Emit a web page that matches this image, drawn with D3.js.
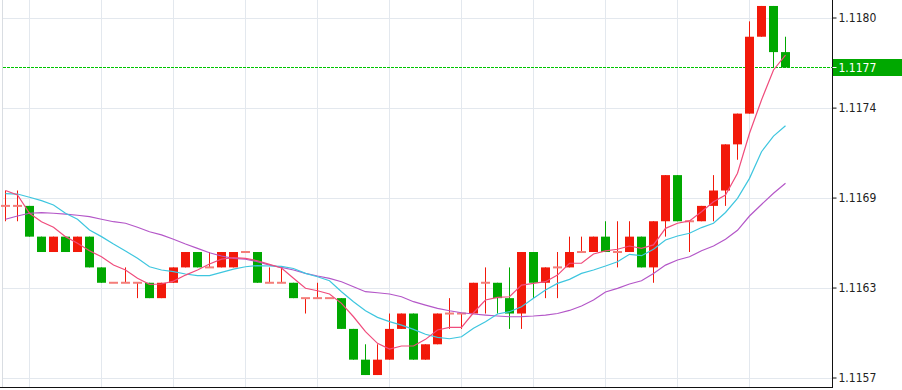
<!DOCTYPE html>
<html>
<head>
<meta charset="utf-8">
<script src="https://cdn.jsdelivr.net/npm/d3@7"></script>
<style>
  html, body { margin: 0; padding: 0; background: #fff; }
  svg { display: block; }
  .axis text { font-family: "DejaVu Sans Condensed", "DejaVu Sans", sans-serif; font-stretch: condensed; font-size: 12px; fill: #222; }
</style>
</head>
<body>
<svg id="chart" width="902" height="390"></svg>
<script>
// ---- data (EURUSD-like candles) ----
const opens = [1.1168,1.1168,1.1168,1.1166,1.1165,1.1166,1.1165,1.1166,1.1164,1.1163,
  1.1163,1.1163,1.1163,1.1162,1.1163,1.1164,1.1165,1.1164,1.1164,1.1164,
  1.1165,1.1165,1.1163,1.1163,1.1163,1.1162,1.1162,1.1162,1.1162,1.1160,
  1.1158,1.1157,1.1158,1.1160,1.1161,1.1158,1.1159,1.1161,1.1161,1.1161,
  1.1163,1.1163,1.1162,1.1161,1.1165,1.1163,1.1164,1.1164,1.1165,1.1165,
  1.1166,1.1165,1.1165,1.1166,1.1164,1.1167,1.1170,1.1167,1.1167,1.1168,
  1.1169,1.1172,1.1174,1.1179,1.1181,1.1178];
const highs = [1.1169,1.1169,1.1168,1.1166,1.1166,1.1166,1.1166,1.1166,1.1164,1.1163,
  1.1164,1.1163,1.1163,1.1163,1.1164,1.1165,1.1165,1.1165,1.1165,1.1165,
  1.1165,1.1165,1.1164,1.1164,1.1163,1.1162,1.1163,1.1162,1.1162,1.1160,
  1.1159,1.1159,1.1161,1.1161,1.1161,1.1159,1.1161,1.1162,1.1161,1.1163,
  1.1164,1.1163,1.1164,1.1165,1.1165,1.1164,1.1165,1.1166,1.1166,1.1166,
  1.1167,1.1167,1.1167,1.1166,1.1167,1.1170,1.1170,1.1167,1.1168,1.1170,
  1.1172,1.1174,1.1180,1.1181,1.1181,1.1179];
const lows = [1.1167,1.1167,1.1166,1.1165,1.1165,1.1165,1.1165,1.1164,1.1163,1.1163,
  1.1163,1.1162,1.1162,1.1162,1.1163,1.1164,1.1164,1.1164,1.1164,1.1164,
  1.1165,1.1163,1.1163,1.1163,1.1162,1.1161,1.1162,1.1162,1.1160,1.1158,
  1.1157,1.1157,1.1158,1.1160,1.1158,1.1158,1.1159,1.1160,1.1160,1.1161,
  1.1161,1.1161,1.1160,1.1160,1.1162,1.1162,1.1162,1.1164,1.1165,1.1165,
  1.1165,1.1164,1.1165,1.1164,1.1163,1.1166,1.1167,1.1165,1.1167,1.1167,
  1.1168,1.1171,1.1174,1.1179,1.1177,1.1177];
const closes = [1.1168,1.1168,1.1166,1.1165,1.1166,1.1165,1.1166,1.1164,1.1163,1.1163,
  1.1163,1.1163,1.1162,1.1163,1.1164,1.1165,1.1164,1.1164,1.1165,1.1165,
  1.1165,1.1163,1.1163,1.1163,1.1162,1.1162,1.1162,1.1162,1.1160,1.1158,
  1.1157,1.1158,1.1160,1.1161,1.1158,1.1159,1.1161,1.1161,1.1161,1.1163,
  1.1163,1.1162,1.1161,1.1165,1.1163,1.1164,1.1164,1.1165,1.1165,1.1166,
  1.1165,1.1165,1.1166,1.1164,1.1167,1.1170,1.1167,1.1167,1.1168,1.1169,
  1.1172,1.1174,1.1179,1.1181,1.1178,1.1177];

// moving averages (fast / medium / slow)
const maFast = [1.116900,1.116871,1.116752,1.116697,1.116661,1.116600,1.116557,1.116508,1.116469,1.116415,
  1.116383,1.116329,1.116290,1.116292,1.116311,1.116350,1.116383,1.116422,1.116454,1.116463,
  1.116459,1.116443,1.116420,1.116396,1.116329,1.116264,1.116248,1.116227,1.116166,1.116079,
  1.115982,1.115906,1.115869,1.115889,1.115889,1.115932,1.115993,1.116010,1.116010,1.116105,
  1.116188,1.116205,1.116209,1.116285,1.116296,1.116307,1.116350,1.116427,1.116427,1.116487,
  1.116507,1.116518,1.116539,1.116524,1.116546,1.116654,1.116687,1.116702,1.116762,1.116827,
  1.116871,1.117012,1.117272,1.117489,1.117684,1.117781];
const maMid = [1.116880,1.116877,1.116856,1.116834,1.116806,1.116752,1.116713,1.116643,1.116600,1.116552,
  1.116507,1.116459,1.116404,1.116383,1.116372,1.116357,1.116346,1.116346,1.116368,1.116389,
  1.116404,1.116412,1.116409,1.116406,1.116393,1.116361,1.116339,1.116313,1.116242,1.116177,
  1.116118,1.116075,1.116047,1.116025,1.115997,1.115965,1.115945,1.115936,1.115949,1.116004,
  1.116047,1.116097,1.116112,1.116144,1.116199,1.116253,1.116296,1.116322,1.116361,1.116383,
  1.116409,1.116437,1.116485,1.116476,1.116518,1.116578,1.116604,1.116622,1.116659,1.116687,
  1.116757,1.116849,1.116979,1.117152,1.117254,1.117321];
const maSlow = [1.116713,1.116734,1.116752,1.116756,1.116752,1.116747,1.116739,1.116730,1.116713,1.116697,
  1.116687,1.116661,1.116632,1.116611,1.116583,1.116552,1.116524,1.116495,1.116474,1.116459,
  1.116453,1.116437,1.116415,1.116400,1.116383,1.116361,1.116344,1.116329,1.116307,1.116274,
  1.116242,1.116235,1.116227,1.116209,1.116177,1.116155,1.116134,1.116118,1.116105,1.116097,
  1.116090,1.116084,1.116079,1.116080,1.116084,1.116090,1.116100,1.116120,1.116149,1.116188,
  1.116240,1.116264,1.116292,1.116313,1.116361,1.116415,1.116448,1.116469,1.116508,1.116539,
  1.116583,1.116641,1.116734,1.116809,1.116882,1.116947];

const yTickValues = [1.115684, 1.116269, 1.116854, 1.117439, 1.118025];
const yTickLabels = ["1.1157", "1.1163", "1.1169", "1.1174", "1.1180"];
const lastPrice = 1.1177;
const lastPriceLabel = "1.1177";

// ---- layout ----
const W = 902, H = 390;
const plotLeft = 2.5, axisX = 832.5, plotBottom = 387;
const n = opens.length;
const bodyW = 9;

const svg = d3.select("#chart");
svg.append("rect").attr("width", W).attr("height", H).attr("fill", "#fff");

const x = d3.scaleLinear().domain([0, n - 1]).range([5.5, 5.5 + 12 * (n - 1)]);
const y = d3.scaleLinear().domain([yTickValues[0], yTickValues[yTickValues.length - 1]]).range([377.5, 17.5]);

// grid
const grid = svg.append("g");
const gridIdx = d3.range(2, n, 6);
grid.selectAll("line.v").data(gridIdx).enter().append("line")
  .attr("x1", d => x(d)).attr("x2", d => x(d))
  .attr("y1", 0).attr("y2", plotBottom)
  .attr("stroke", "#e3e8ee").attr("stroke-width", 1);
grid.selectAll("line.h").data(yTickValues).enter().append("line")
  .attr("x1", plotLeft).attr("x2", axisX)
  .attr("y1", d => Math.round(y(d)) + 0.5).attr("y2", d => Math.round(y(d)) + 0.5)
  .attr("stroke", "#e3e8ee").attr("stroke-width", 1);
grid.append("line").attr("x1", plotLeft).attr("x2", plotLeft).attr("y1", 0).attr("y2", plotBottom)
  .attr("stroke", "#d9dde2").attr("stroke-width", 1);

// current price dotted line
const yLast = Math.round(y(lastPrice)) + 0.5;
svg.append("line").attr("x1", 3).attr("x2", 832).attr("y1", yLast).attr("y2", yLast)
  .attr("stroke", "#00c400").attr("stroke-width", 1).attr("stroke-dasharray", "3 1");

// candles
const RED = "#f2190a", GREEN = "#00a800", DOJI = "#f47e7a";
const candles = d3.range(n).map(i => ({ i, o: opens[i], h: highs[i], l: lows[i], c: closes[i] }));
const cg = svg.append("g");
const colorOf = d => d.c < d.o ? GREEN : RED;
cg.selectAll("line.wick").data(candles.filter(d => d.h > d.l)).enter().append("line")
  .attr("x1", d => x(d.i)).attr("x2", d => x(d.i))
  .attr("y1", d => y(d.h)).attr("y2", d => y(d.l))
  .attr("stroke", colorOf).attr("stroke-width", 1);
cg.selectAll("rect.body").data(candles.filter(d => d.o !== d.c)).enter().append("rect")
  .attr("x", d => x(d.i) - bodyW / 2)
  .attr("y", d => y(Math.max(d.o, d.c)))
  .attr("width", bodyW)
  .attr("height", d => y(Math.min(d.o, d.c)) - y(Math.max(d.o, d.c)))
  .attr("fill", colorOf);
cg.selectAll("rect.doji").data(candles.filter(d => d.o === d.c)).enter().append("rect")
  .attr("x", d => x(d.i) - bodyW / 2)
  .attr("y", d => y(d.o) - 1)
  .attr("width", bodyW).attr("height", 2)
  .attr("fill", DOJI);

// moving averages
const line = d3.line().x((d, i) => x(i)).y(d => y(d));
[[maSlow, "#b457c8"], [maMid, "#3ec6df"], [maFast, "#f04c7c"]].forEach(([arr, col]) => {
  svg.append("path").datum(arr).attr("d", line)
    .attr("fill", "none").attr("stroke", col).attr("stroke-width", 1.2);
});

// axes
svg.append("line").attr("x1", 0).attr("x2", axisX).attr("y1", plotBottom + 0.5).attr("y2", plotBottom + 0.5)
  .attr("stroke", "#111").attr("stroke-width", 1);
const yAxis = d3.axisRight(y).tickValues(yTickValues)
  .tickFormat((d, i) => yTickLabels[i]).tickSize(4).tickPadding(2).tickSizeOuter(0);
const ag = svg.append("g").attr("class", "axis").attr("transform", `translate(${axisX},0)`).call(yAxis);
ag.select(".domain").attr("d", `M0,0V${plotBottom + 1}`).attr("stroke", "#111");
ag.selectAll(".tick line").attr("stroke", "#111");
ag.selectAll(".tick text").attr("dy", "0.35em");

// last price label
const lg = svg.append("g");
lg.append("rect").attr("x", axisX + 0.5).attr("y", yLast - 8.5).attr("width", W - axisX).attr("height", 17)
  .attr("fill", "#00a800");
lg.append("line").attr("x1", axisX).attr("x2", axisX + 4).attr("y1", yLast).attr("y2", yLast)
  .attr("stroke", "#fff");
lg.append("text").attr("class", "axis").attr("x", axisX + 6).attr("y", yLast).attr("dy", "0.35em")
  .attr("font-family", "DejaVu Sans Condensed, DejaVu Sans, sans-serif")
  .attr("font-stretch", "condensed").attr("font-size", 12)
  .attr("fill", "#fff").text(lastPriceLabel);
</script>
</body>
</html>
